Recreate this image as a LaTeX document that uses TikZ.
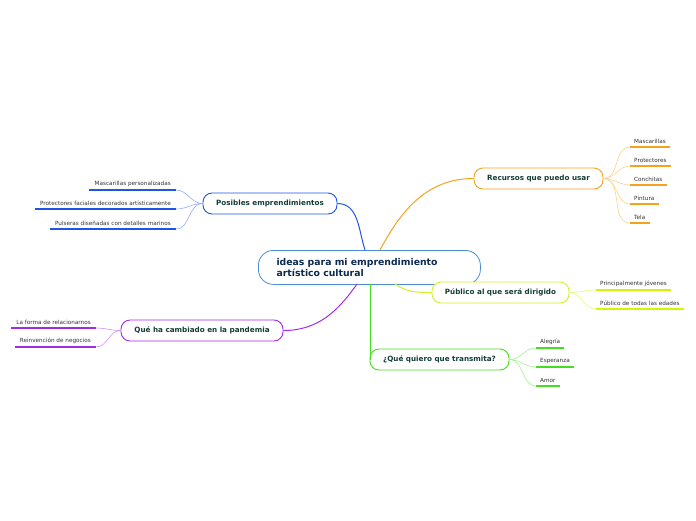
\documentclass[tikz,border=0pt]{standalone}
\usepackage{fontspec}
\setmainfont{DejaVu Sans}
\usetikzlibrary{calc}
\definecolor{orgD}{HTML}{F5A21E}
\definecolor{orgL}{HTML}{FCD18A}
\definecolor{bluD}{HTML}{1E55E6}
\definecolor{bluL}{HTML}{8FAEF5}
\definecolor{yelD}{HTML}{D2F02A}
\definecolor{yelL}{HTML}{E6F77F}
\definecolor{yelU}{HTML}{D4F500}
\definecolor{grnD}{HTML}{45DE1E}
\definecolor{grnL}{HTML}{A8EE92}
\definecolor{purD}{HTML}{A22CE6}
\definecolor{purL}{HTML}{CF92F3}
\definecolor{ctrB}{HTML}{4A8FD0}
\definecolor{ctrT}{HTML}{0C2A50}
\definecolor{brT}{HTML}{143D35}
\definecolor{leafT}{HTML}{333333}
\tikzset{
  branch/.style={draw=#1, line width=0.9pt, rounded corners=9pt, fill=white,
    minimum height=21pt, inner xsep=4pt, font=\fontsize{7.2}{8}\selectfont\bfseries, text=brT},
  leafR/.style={anchor=south west, inner xsep=4pt, inner ysep=3.2pt,
    font=\fontsize{5.7}{6}\selectfont, text=leafT},
  leafL/.style={anchor=south east, inner xsep=5pt, inner ysep=3.2pt,
    font=\fontsize{5.7}{6}\selectfont, text=leafT},
  uline/.style={line width=1.4pt, draw=#1},
  main/.style={line width=1pt, draw=#1},
  sub/.style={line width=0.6pt, draw=#1},
}
\begin{document}
\begin{tikzpicture}[x=1pt,y=-1pt]
\useasboundingbox (0,0) rectangle (696,520);
% central
\node[draw=ctrB, line width=0.8pt, rounded corners=15pt, fill=white,
  minimum width=222pt, minimum height=34pt, anchor=north west] (c) at (258,250) {};
\node[anchor=west, align=left, text=ctrT, font=\fontsize{9.3}{11}\selectfont\bfseries] (ct) at (273,267.5)
  {ideas para mi emprendimiento\\artístico cultural};
\coordinate (cO) at (380,250);
\coordinate (cB) at (365,250);
\coordinate (cP) at (357,284);
\coordinate (cY) at (395,284);
\coordinate (cG) at (370,284);
% branches
\node[branch=orgD, minimum width=129pt] (rec) at (538.5,178.5) {Recursos que puedo usar};
\node[branch=bluD, minimum width=134pt] (pos) at (270,203.5) {Posibles emprendimientos};
\node[branch=yelD, minimum width=137pt] (pub) at (500.5,292.5) {Público al que será dirigido};
\node[branch=grnD, minimum width=139pt] (que) at (439.5,359.5) {¿Qué quiero que transmita?};
\node[branch=purD, minimum width=162pt] (pan) at (202,330.5) {Qué ha cambiado en la pandemia};
% main connectors
\draw[main=orgD] (cO) to[out=62,in=180] (rec.west);
\draw[main=bluD] (cB) to[out=108,in=0] (pos.east);
\draw[main=yelD] (cY) to[out=-35,in=180] (pub.west);
\draw[main=grnD] (cG) -- (370,359.5) -- (que.west);
\draw[main=purD] (cP) to[out=-125,in=0] (pan.east);
% Recursos leaves
\node[leafR] (r1) at (630,147) {Mascarillas};
\node[leafR] (r2) at (630,166) {Protectores};
\node[leafR] (r3) at (630,185) {Conchitas};
\node[leafR] (r4) at (630,204) {Pintura};
\node[leafR] (r5) at (630,223) {Tela};
\foreach \n in {r1,r2,r3,r4,r5}{
  \draw[uline=orgD] (\n.south west) -- (\n.south east);
  \draw[sub=orgL] (rec.east) to[out=0,in=180] (\n.south west);
}
% Posibles leaves
\node[leafL] (p1) at (176,190) {Mascarillas personalizadas};
\node[leafL] (p2) at (176,209) {Protectores faciales decorados artísticamente};
\node[leafL] (p3) at (176,229) {Pulseras diseñadas con detalles marinos};
\foreach \n in {p1,p2,p3}{
  \draw[uline=bluD] (\n.south west) -- (\n.south east);
  \draw[sub=bluL] (pos.west) to[out=180,in=0] (\n.south east);
}
% Publico leaves
\node[leafR] (u1) at (596,290) {Principalmente jóvenes};
\node[leafR] (u2) at (596,309) {Público de todas las edades};
\foreach \n in {u1,u2}{
  \draw[uline=yelU] (\n.south west) -- (\n.south east);
  \draw[sub=yelL] (pub.east) to[out=0,in=180] (\n.south west);
}
% Transmita leaves
\node[leafR] (q1) at (536,348) {Alegría};
\node[leafR] (q2) at (536,367) {Esperanza};
\node[leafR] (q3) at (536,386) {Amor};
\foreach \n in {q1,q2,q3}{
  \draw[uline=grnD] (\n.south west) -- (\n.south east);
  \draw[sub=grnL] (que.east) to[out=0,in=180] (\n.south west);
}
% Pandemia leaves
\node[leafL] (d1) at (96,328) {La forma de relacionarnos};
\node[leafL] (d2) at (96,347) {Reinvención de negocios};
\foreach \n in {d1,d2}{
  \draw[uline=purD] (\n.south west) -- (\n.south east);
  \draw[sub=purL] (pan.west) to[out=180,in=0] (\n.south east);
}
\end{tikzpicture}
\end{document}
